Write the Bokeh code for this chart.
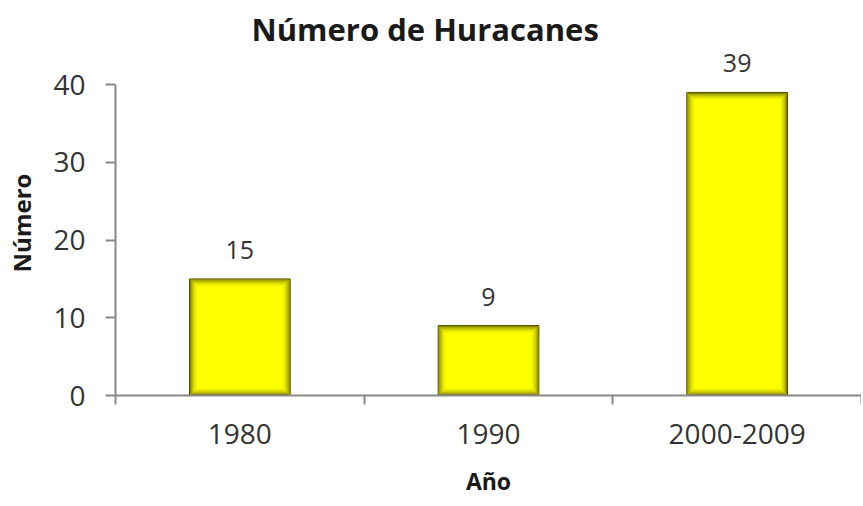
from bokeh.plotting import figure
from bokeh.models import ColumnDataSource, FixedTicker, LabelSet, Range1d, Title
from bokeh.core.properties import value
from bokeh.embed import file_html
from bokeh.resources import INLINE

categories = ["1980", "1990", "2000-2009"]
values = [15, 9, 39]
y_ticks = [0, 10, 20, 30, 40]

FONT = "Open Sans"
AXIS_COLOR = "#888888"
TEXT_COLOR = "#333333"

xpos = [i + 0.5 for i in range(len(categories))]
src = ColumnDataSource(dict(x=xpos, top=values, label=[str(v) for v in values]))

p = figure(width=861, height=504, output_backend="svg", toolbar_location=None,
           x_range=Range1d(0, len(categories)), y_range=Range1d(0, 44.4),
           min_border_left=115, min_border_right=0, min_border_top=50, min_border_bottom=109)
p.outline_line_color = None
p.grid.grid_line_color = None
p.background_fill_color = "white"
p.border_fill_color = "white"

# bars with inner shading
BAR_W = 0.405
p.vbar(x="x", top="top", bottom=0, width=BAR_W, source=src,
       fill_color="#ffff00", line_color="#4d4d00", line_width=1)
px_x = 1.0 / 248.7
px_y = 10.0 / 77.75
shades = [0.75, 0.55, 0.40, 0.28, 0.18, 0.10, 0.05]
for k, a in enumerate(shades, start=1):
    w = BAR_W - 2 * k * px_x
    p.vbar(x=xpos, top=[v - k * px_y for v in values], bottom=k * px_y, width=w,
           fill_color=None, line_color="#5c5c00", line_alpha=a, line_width=1)

labels = LabelSet(x="x", y="top", text="label", source=src, y_offset=20,
                  text_align="center", text_baseline="alphabetic",
                  text_font=value(FONT), text_font_size="25px", text_color=TEXT_COLOR)
p.add_layout(labels)

# x axis
xa = p.xaxis[0]
xa.ticker = FixedTicker(ticks=xpos, minor_ticks=list(range(len(categories) + 1)))
xa.major_label_overrides = {x: c for x, c in zip(xpos, categories)}
xa.major_tick_line_color = None
xa.minor_tick_in = 0
xa.minor_tick_out = 9
xa.minor_tick_line_color = AXIS_COLOR
xa.minor_tick_line_width = 2
xa.axis_line_color = AXIS_COLOR
xa.axis_line_width = 2
xa.major_label_text_font = FONT
xa.major_label_text_font_size = "28px"
xa.major_label_text_color = TEXT_COLOR
xa.major_label_standoff = 19
xa.axis_label = "Año"
xa.axis_label_text_font = FONT
xa.axis_label_text_font_style = "bold"
xa.axis_label_text_font_size = "23px"
xa.axis_label_text_color = "#1a1a1a"
xa.axis_label_standoff = 18

# y axis
ya = p.yaxis[0]
ya.bounds = (0, 40)
ya.ticker = FixedTicker(ticks=y_ticks, minor_ticks=[])
ya.major_tick_in = 0
ya.major_tick_out = 10
ya.major_tick_line_color = AXIS_COLOR
ya.major_tick_line_width = 2
ya.axis_line_color = AXIS_COLOR
ya.axis_line_width = 2
ya.major_label_text_font = FONT
ya.major_label_text_font_size = "28px"
ya.major_label_text_color = TEXT_COLOR
ya.major_label_standoff = 20
ya.axis_label = "Número"
ya.axis_label_text_font = FONT
ya.axis_label_text_font_style = "bold"
ya.axis_label_text_font_size = "24px"
ya.axis_label_text_color = "#1a1a1a"
ya.axis_label_standoff = 12

p.title = Title(text="Número de Huracanes", align="left", offset=136, standoff=2,
                text_font=FONT, text_font_style="bold", text_font_size="31px",
                text_color="#1a1a1a")

open("out.html", "w").write(file_html(p, INLINE))
